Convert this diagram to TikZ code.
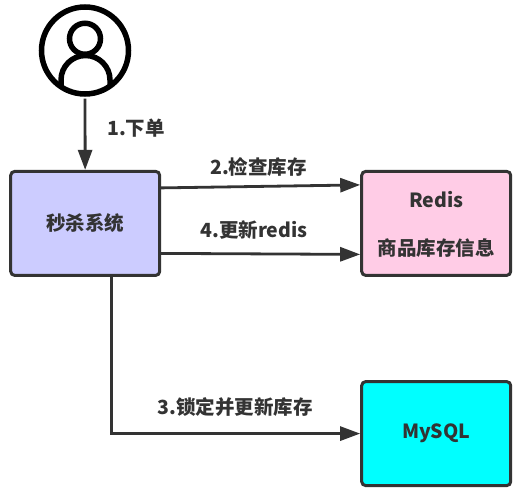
\documentclass[tikz,border=0pt]{standalone}
\usepackage{fontspec}
\usepackage{xcolor}
\usepackage{tikz}
\usetikzlibrary{arrows.meta,positioning}
\setmainfont{Noto Sans CJK SC}
\definecolor{FlowGray}{HTML}{333333}
\definecolor{SysBlue}{HTML}{CCCCFF}
\definecolor{RedisPink}{HTML}{FFCCE6}
\definecolor{MysqlCyan}{HTML}{00FFFF}

\begin{document}
\begin{tikzpicture}[
  x=1pt,y=1pt,
  node distance=103.2pt and 199pt,
  box/.style={draw=FlowGray,line width=3pt,rounded corners=4pt,minimum width=149pt,
    minimum height=104pt,inner sep=0pt,align=center,text=FlowGray,
    font=\fontsize{19.5}{24}\selectfont\bfseries},
  arrow/.style={-{Triangle[length=20pt,width=14pt]},line width=2.8pt,color=FlowGray},
  icon/.style={draw=black,line width=5.5pt},
  label/.style={text=FlowGray,inner sep=0pt,font=\fontsize{19.5}{24}\selectfont\bfseries}
]
  \useasboundingbox (0,0) rectangle (522,-489);
  \node[box,fill=SysBlue] (sys) at (85.2,-223.4) {秒杀系统};
  \node[box,fill=RedisPink,right=of sys,text depth=0pt] (redis) {Redis\\[24.5pt]商品库存信息};
  \node[box,fill=MysqlCyan,below=of redis] (mysql) {MySQL};
  \node[icon,circle,minimum size=87pt,inner sep=0pt] (user) at (85,-50.5) {};
  \node[icon,circle,minimum size=31pt,inner sep=0pt,above=-52.75pt of user] (head) {};
  \draw[icon] (61,-85) -- (61,-80) arc[start angle=180,end angle=0,radius=24.5pt] -- (110,-85);
  \draw[arrow,shorten <=2pt] (user) -- (sys);
  \draw[arrow] ([yshift=35.5pt]sys.east) -- ([yshift=38.5pt]redis.west);
  \draw[arrow] ([yshift=-30pt]sys.east) -- ([yshift=-31pt]redis.west);
  \draw[arrow] ([xshift=-50pt]sys.south -| sys.east) |- (mysql);
  \node[label] (order) at (136,-128) {1.下单};
  \node[label] (check) at (258.5,-167) {2.检查库存};
  \node[label] (update) at (254,-230) {4.更新redis};
  \node[label] (lock) at (235,-407) {3.锁定并更新库存};
\end{tikzpicture}
\end{document}
